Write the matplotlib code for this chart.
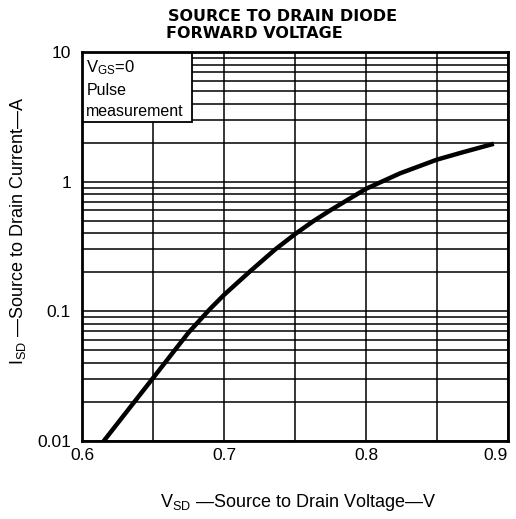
import matplotlib
matplotlib.use('Agg')
import matplotlib.pyplot as plt
from matplotlib.patches import Rectangle

plt.rcParams['font.family'] = ['Liberation Sans', 'DejaVu Sans']
plt.rcParams['mathtext.fontset'] = 'custom'
plt.rcParams['mathtext.rm'] = 'Liberation Sans'
plt.rcParams['mathtext.it'] = 'Liberation Sans'

# curve
vsd = [0.6153, 0.65, 0.675, 0.69, 0.70, 0.718, 0.736, 0.75, 0.763, 0.775,
       0.80, 0.824, 0.85, 0.8685, 0.8885]
isd = [0.01, 0.0306, 0.0686, 0.104, 0.134, 0.202, 0.30, 0.394, 0.497, 0.603,
       0.881, 1.16, 1.48, 1.69, 1.94]

x_ticks = [0.6, 0.7, 0.8, 0.9]
x_labels = ['0.6', '0.7', '0.8', '0.9']
y_ticks = [0.01, 0.1, 1, 10]
y_labels = ['0.01', '0.1', '1', '10']

fig = plt.figure(figsize=(5.16, 5.19), dpi=100)
ax = fig.add_axes([0.159, 0.1503, 0.8256, 0.7495])

ax.plot(vsd, isd, color='black', lw=3.2, zorder=3, solid_joinstyle='round')
ax.set_yscale('log')
ax.set_xlim(0.6, 0.9)
ax.set_ylim(0.01, 10)

ax.set_xticks([0.65, 0.7, 0.75, 0.8, 0.85], minor=True)
ax.set_xticks(x_ticks)
ax.set_xticklabels(x_labels)
ax.get_xticklabels()[-1].set_horizontalalignment('right')
ax.set_yticks(y_ticks)
ax.set_yticklabels(y_labels)
ax.tick_params(which='both', length=0, labelsize=12.5)
ax.tick_params(axis='x', pad=5)
ax.tick_params(axis='y', pad=8)
ax.tick_params(axis='y', which='minor', labelleft=False)
ax.grid(which='both', color='black', lw=1.1)
for s in ax.spines.values():
    s.set_linewidth(2)

# condition box in upper-left corner
ax.add_patch(Rectangle((0, 0.82), 0.258, 0.18, transform=ax.transAxes,
                       facecolor='white', edgecolor='black', lw=1.3, zorder=2))
ax.text(0.01, 0.961, r'V$_{\mathrm{GS}}$=0', transform=ax.transAxes, fontsize=12, va='center')
ax.text(0.01, 0.902, 'Pulse', transform=ax.transAxes, fontsize=11.5, va='center')
ax.text(0.01, 0.846, 'measurement', transform=ax.transAxes, fontsize=11.5, va='center')

# two-line title
fig.text(0.326, 0.968, 'SOURCE TO DRAIN DIODE', ha='left', va='center',
         fontsize=11.5, fontweight='bold', family='DejaVu Sans')
fig.text(0.322, 0.935, 'FORWARD VOLTAGE', ha='left', va='center',
         fontsize=11.5, fontweight='bold', family='DejaVu Sans')
fig.text(0.578, 0.031, r'V$_{\mathrm{SD}}$ —Source to Drain Voltage—V', ha='center', va='center', fontsize=13)
fig.text(0.035, 0.555, r'I$_{\mathrm{SD}}$ —Source to Drain Current—A', ha='center', va='center',
         rotation=90, fontsize=13)

fig.savefig('out.png', dpi=100)
